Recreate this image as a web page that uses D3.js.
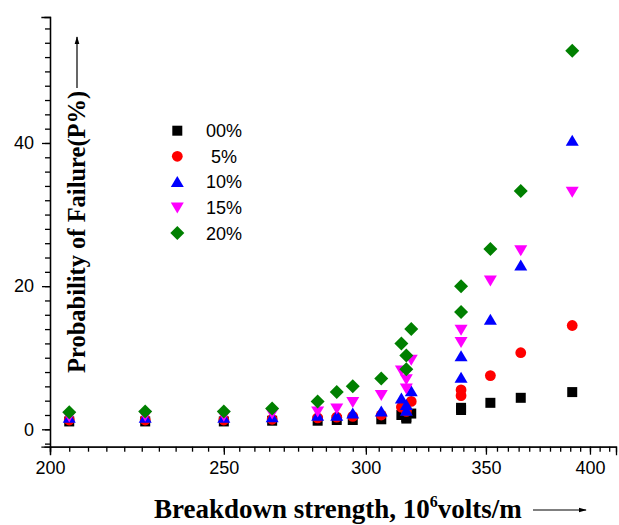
<!DOCTYPE html>
<html>
<head>
<meta charset="utf-8">
<script src="https://cdn.jsdelivr.net/npm/d3@7"></script>
<style>
  body { margin: 0; background: #fff; }
  .tick text { font-family: "Liberation Sans", Arial, sans-serif; font-size: 18px; fill: #000; }
  .axis path, .axis line { stroke: #000; stroke-width: 1.3; }
  .title { font-family: "Liberation Serif", "Times New Roman", serif; font-weight: bold; fill: #000; }
  .legend text { font-family: "Liberation Sans", Arial, sans-serif; font-size: 18px; white-space: pre; }
</style>
</head>
<body>
<script>
// breakdown strength (10^6 V/m)
var strength = [205, 226, 250, 266, 282, 289, 295, 306, 314, 316, 316, 318, 339, 339, 352, 366, 391];

// probability of failure (%) for each filler content
var p00 = [1.1, 1.1, 1.1, 1.2, 1.2, 1.3, 1.3, 1.4, 2.0, 1.7, 1.5, 2.2, 3.0, 2.7, 3.7, 4.4, 5.2];
var p05 = [1.3, 1.3, 1.3, 1.4, 1.6, 1.7, 1.8, 2.0, 3.1, 2.8, 2.5, 3.9, 5.5, 4.7, 7.5, 10.7, 14.5];
var p10 = [1.6, 1.6, 1.6, 1.7, 1.9, 1.9, 2.2, 2.5, 4.3, 3.4, 2.6, 5.3, 10.2, 7.2, 15.3, 22.9, 40.3];
var p15 = [1.8, 1.9, 1.9, 2.2, 2.5, 2.9, 3.8, 4.8, 8.2, 7.0, 5.7, 9.7, 13.9, 12.2, 20.8, 25.0, 33.2];
var p20 = [2.4, 2.5, 2.5, 2.9, 3.9, 5.2, 6.0, 7.1, 12.0, 10.3, 8.4, 14.0, 20.0, 16.4, 25.2, 33.3, 52.9];

var seriesNames = ["00%", " 5%", "10%", "15%", "20%"];
var xTicks = [200, 250, 300, 350, 400];
var yTicks = [0, 20, 40];

var svgWidth = 619;
var svgHeight = 525;

var svg = d3.select("body")
  .append("svg")
  .attr("width", svgWidth)
  .attr("height", svgHeight);

// x is a log axis
var xScale = d3.scaleLog().domain([200, 413.6]).range([50, 616]);
var yScale = d3.scaleLinear().domain([-2.43, 57.6]).range([446.7, 17]);

// marker shapes
function shape(kind) {
  return function(d) {
    var x = xScale(d.x), y = yScale(d.y);
    if (kind == "square") {
      return "M" + (x - 5) + "," + (y - 5) + "h10v10h-10Z";
    } else if (kind == "circle") {
      var r = 5.4;
      return "M" + (x - r) + "," + y + "a" + r + "," + r + " 0 1,0 " + (2 * r) + ",0a" + r + "," + r + " 0 1,0 " + (-2 * r) + ",0Z";
    } else if (kind == "up") {
      return "M" + x + "," + (y - 6) + "L" + (x + 6.5) + "," + (y + 5) + "L" + (x - 6.5) + "," + (y + 5) + "Z";
    } else if (kind == "down") {
      return "M" + x + "," + (y + 6) + "L" + (x + 6.5) + "," + (y - 5) + "L" + (x - 6.5) + "," + (y - 5) + "Z";
    }
    return "M" + x + "," + (y - 7) + "L" + (x + 7) + "," + y + "L" + x + "," + (y + 7) + "L" + (x - 7) + "," + y + "Z";
  };
}

var series = [
  { name: seriesNames[0], values: p00, color: "#000000", kind: "square" },
  { name: seriesNames[1], values: p05, color: "#ff0000", kind: "circle" },
  { name: seriesNames[2], values: p10, color: "#0000ff", kind: "up" },
  { name: seriesNames[3], values: p15, color: "#ff00ff", kind: "down" },
  { name: seriesNames[4], values: p20, color: "#008000", kind: "diamond" }
];

// axes
var bottomAxis = d3.axisBottom(xScale).tickValues(xTicks).tickFormat(d3.format("d")).tickSize(8).tickPadding(7);
var bottomMinor = d3.axisBottom(xScale).tickValues(d3.range(200, 415, 5)).tickFormat("").tickSize(5);
var leftAxis = d3.axisLeft(yScale).tickValues(yTicks).tickSize(8).tickPadding(8);
var leftMinor = d3.axisLeft(yScale).tickValues(d3.range(-2, 58, 2)).tickFormat("").tickSize(5);

svg.append("g").attr("class", "axis").attr("transform", "translate(0,446.7)").call(bottomMinor);
svg.append("g").attr("class", "axis").attr("transform", "translate(0,446.7)").call(bottomAxis);
svg.append("g").attr("class", "axis").attr("transform", "translate(50,0)").call(leftMinor);
svg.append("g").attr("class", "axis").attr("transform", "translate(50,0)").call(leftAxis);
svg.selectAll(".axis path.domain").attr("stroke-linecap", "square");

// points
series.forEach(function(s) {
  var pts = strength.map(function(x, i) { return { x: x, y: s.values[i] }; });
  svg.append("g")
    .selectAll("path")
    .data(pts)
    .enter()
    .append("path")
    .attr("d", shape(s.kind))
    .attr("fill", s.color);
});

// legend
var legend = svg.append("g").attr("class", "legend");
series.forEach(function(s, i) {
  var ly = 130.7 + i * 25.6;
  legend.append("path")
    .datum({ x: xScale.invert(177.3), y: yScale.invert(ly) })
    .attr("d", shape(s.kind))
    .attr("fill", s.color);
  legend.append("text")
    .attr("x", 206)
    .attr("y", ly + 6.5)
    .text(s.name);
});

// axis titles
svg.append("text")
  .attr("class", "title")
  .attr("transform", "translate(85,373) rotate(-90)")
  .style("font-size", "24.5px")
  .text("Probability of Failure(P%)");

var xt = svg.append("text")
  .attr("class", "title")
  .attr("x", 154)
  .attr("y", 518)
  .style("font-size", "27px");
xt.append("tspan").text("Breakdown strength, 10");
xt.append("tspan").attr("dy", -11).style("font-size", "16px").text("6");
xt.append("tspan").attr("dy", 11).text("volts/m");

// arrows
var defs = svg.append("defs");
defs.append("marker")
  .attr("id", "head")
  .attr("viewBox", "0 0 10 10")
  .attr("refX", 9).attr("refY", 5)
  .attr("markerWidth", 8).attr("markerHeight", 8)
  .attr("markerUnits", "userSpaceOnUse")
  .attr("orient", "auto")
  .append("path").attr("d", "M0,2L10,5L0,8Z").attr("fill", "#000");

svg.append("line")
  .attr("x1", 77).attr("y1", 88).attr("x2", 77).attr("y2", 37)
  .attr("stroke", "#000").attr("stroke-width", 1.2)
  .attr("marker-end", "url(#head)");

svg.append("line")
  .attr("x1", 533).attr("y1", 510).attr("x2", 586).attr("y2", 510)
  .attr("stroke", "#000").attr("stroke-width", 1.2)
  .attr("marker-end", "url(#head)");
</script>
</body>
</html>
